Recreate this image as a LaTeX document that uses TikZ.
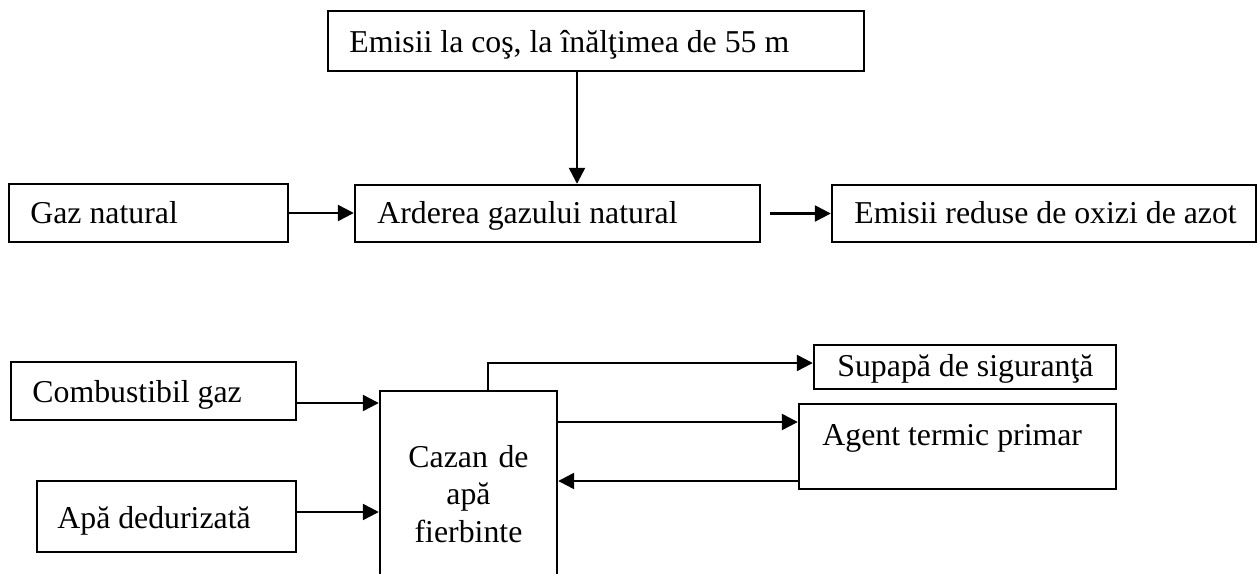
\documentclass[tikz,border=0pt]{standalone}
\usepackage{fontspec}
\setmainfont{Liberation Serif}
\usetikzlibrary{arrows.meta,fit}
\begin{document}
\begin{tikzpicture}[x=0.5pt,y=-0.5pt,
  box/.style={draw, line width=1.2pt, inner sep=0pt},
  lbl/.style={inner sep=0pt, font=\fontsize{15.9pt}{18.75pt}\selectfont},
  arr/.style={line width=1.2pt, -{Triangle[length=8pt,width=8pt]}}]
\useasboundingbox (0,0) rectangle (1258,573);
\clip (0,0) rectangle (1258,573);
% top
\node[box, fit={(328,11)(864,71)}] (top) {};
\node[lbl, anchor=base west] (top-t) at (349,52) {Emisii la coş, la înălţimea de 55 m};
% row 1
\node[box, fit={(9,184)(288,242)}] (gaz) {};
\node[lbl, anchor=base west] (gaz-t) at (30,223) {Gaz natural};
\node[box, fit={(355,185)(760,242)}] (ard) {};
\node[lbl, anchor=base west] (ard-t) at (377,223) {Arderea gazului natural};
\node[box, fit={(832,185)(1256,242)}] (red) {};
\node[lbl, anchor=base west] (red-t) at (854,223) {Emisii reduse de oxizi de azot};
\coordinate (vx) at (577,0);
\draw[arr] (top.south -| vx) -- (ard.north -| vx);
\draw[arr] (gaz.east) -- (gaz.east -| ard.west);
\draw[arr] ([xshift=4.5pt]ard.east) -- (ard.east -| red.west);
% row 2
\node[box, fit={(11,362)(296,420)}] (comb) {};
\node[lbl, anchor=base west] (comb-t) at (32,402) {Combustibil gaz};
\node[box, fit={(37,481)(296,552)}] (apa) {};
\node[lbl, anchor=base west] (apa-t) at (57,528) {Apă dedurizată};
\node[box, fit={(380,391)(557,600)}] (caz) {};
\node[lbl, anchor=base, text width=80pt, align=center] (caz-t) at (468.5,467) {Cazan de\\apă\\fierbinte};
\node[box, fit={(814,345)(1116,389)}] (sup) {};
\node[lbl, anchor=base west] (sup-t) at (837,376) {Supapă de siguranţă};
\node[box, fit={(799,404)(1116,489)}] (agt) {};
\node[lbl, anchor=base west] (agt-t) at (822,445) {Agent termic primar};
\coordinate (y1) at (0,403);
\coordinate (y2) at (0,512);
\coordinate (sx) at (488,363);
\coordinate (y3) at (0,422);
\coordinate (y4) at (0,481);
\draw[arr] (comb.east |- y1) -- (caz.west |- y1);
\draw[arr] (apa.east |- y2) -- (caz.west |- y2);
\draw[arr] (caz.north -| sx) -- (sx) -- (sup.west |- sx);
\draw[arr] (caz.east |- y3) -- (agt.west |- y3);
\draw[arr] (agt.west |- y4) -- (caz.east |- y4);
\end{tikzpicture}
\end{document}
